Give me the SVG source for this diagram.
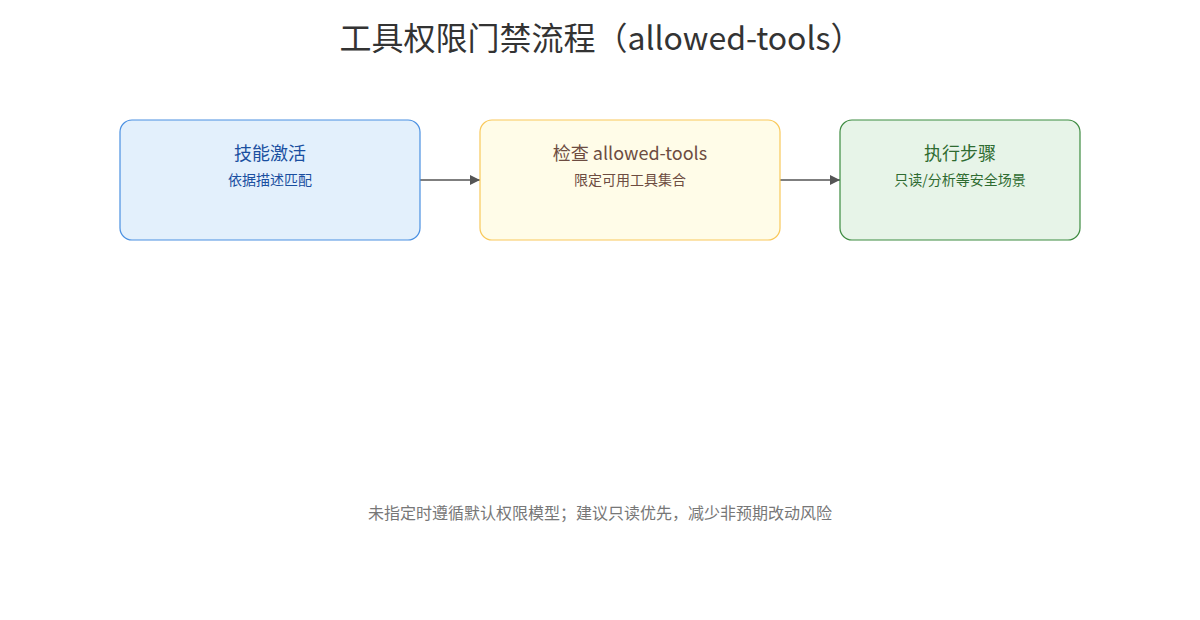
<svg xmlns="http://www.w3.org/2000/svg" width="1200" height="620" viewBox="0 0 1200 620">
<style>
text { font-family: "Noto Sans CJK SC", "Noto Sans", sans-serif; text-anchor: middle; }
.title { font-size: 32px; fill: #333333; }
.nt { font-size: 18px; }
.ns { font-size: 14px; }
.foot { font-size: 16px; fill: #777777; }
.conn { stroke: #555555; stroke-width: 1.6; fill: none; marker-end: url(#arr); }
</style>
<defs>
<marker id="arr" viewBox="0 0 10 10" refX="10" refY="5" markerWidth="10" markerHeight="10" markerUnits="userSpaceOnUse" orient="auto">
<path d="M0,0 L10,5 L0,10 z" fill="#555555"/>
</marker>
</defs>
<rect width="1200" height="620" fill="#ffffff"/>
<text class="title" x="601" y="50">工具权限门禁流程（allowed-tools）</text>
<g id="connectors">
<line class="conn" x1="420" y1="180" x2="480" y2="180"/>
<line class="conn" x1="780" y1="180" x2="840" y2="180"/>
</g>
<g id="node-activate">
<rect x="120" y="120" width="300" height="120" rx="12" fill="#E3F0FC" stroke="#4A90E2" stroke-width="1.2"/>
<text class="nt" x="270" y="160" fill="#1A4FA0">技能激活</text>
<text class="ns" x="270" y="185" fill="#1A4FA0">依据描述匹配</text>
</g>
<g id="node-check">
<rect x="480" y="120" width="300" height="120" rx="12" fill="#FFFCE8" stroke="#F9C85A" stroke-width="1.2"/>
<text class="nt" x="630" y="160" fill="#6D4C41">检查 allowed-tools</text>
<text class="ns" x="630" y="185" fill="#6D4C41">限定可用工具集合</text>
</g>
<g id="node-exec">
<rect x="840" y="120" width="240" height="120" rx="12" fill="#E7F4E8" stroke="#3D8B40" stroke-width="1.2"/>
<text class="nt" x="960" y="160" fill="#2E6B30">执行步骤</text>
<text class="ns" x="960" y="185" fill="#2E6B30">只读/分析等安全场景</text>
</g>
<text class="foot" x="600" y="519">未指定时遵循默认权限模型；建议只读优先，减少非预期改动风险</text>
</svg>
